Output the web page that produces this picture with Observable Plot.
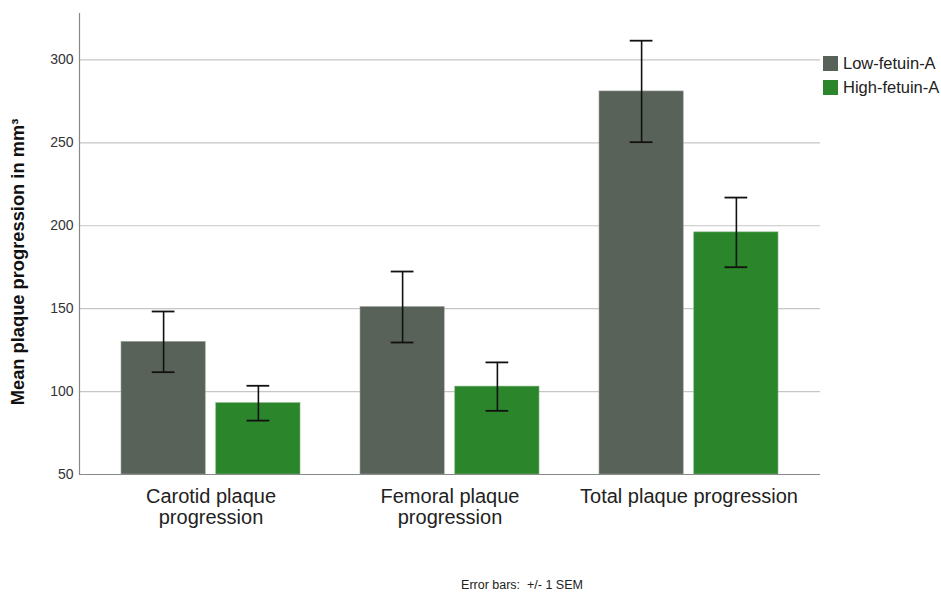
<!DOCTYPE html>
<html><head>
<meta charset="utf-8">
<script src="https://cdn.jsdelivr.net/npm/d3@7"></script>
<script src="https://cdn.jsdelivr.net/npm/@observablehq/plot@0.6"></script>
<style>
body{margin:0;background:#fff;font-family:"Liberation Sans",Arial,sans-serif}
#wrap{position:relative;width:941px;height:594px;overflow:hidden}
#legend{position:absolute;left:823px;top:51px;font-size:16.5px;color:#222}
.row{display:flex;align-items:center;height:24px}
.sw{width:15px;height:15px;margin-right:5px}
#caption{position:absolute;left:0;width:1044px;top:578px;text-align:center;font-size:12.5px;color:#222;white-space:pre}
</style>
</head><body>
<div id="wrap"><div id="chart"></div><div id="legend"></div><div id="caption"></div></div>
<script>
const measures = ["Carotid plaque progression", "Femoral plaque progression", "Total plaque progression"];
const measureLabels = ["Carotid plaque\nprogression", "Femoral plaque\nprogression", "Total plaque progression"];
const groups = ["Low-fetuin-A", "High-fetuin-A"];
const lowMeans = [130, 151, 281];
const lowSEM = [18.3, 21.4, 30.6];
const highMeans = [93, 103, 196];
const highSEM = [10.5, 14.6, 21];
const yTicks = [50, 100, 150, 200, 250, 300];
const yDomain = [50, 328];
const colors = ["#596259", "#2b862b"];
const yTitle = "Mean plaque progression in mm³";
const captionText = "Error bars:  +/- 1 SEM";

const lowRows = measures.map((m, i) => ({measure: m, group: groups[0], mean: lowMeans[i], lo: lowMeans[i] - lowSEM[i], hi: lowMeans[i] + lowSEM[i]}));
const highRows = measures.map((m, i) => ({measure: m, group: groups[1], mean: highMeans[i], lo: highMeans[i] - highSEM[i], hi: highMeans[i] + highSEM[i]}));
const labelOf = new Map(measures.map((m, i) => [m, measureLabels[i]]));

// style constants (pixels): bar split inside each category band
const half = 94.77, off = 47.39, capIn = 30.75;

const errMarks = (rows, side) => {
  const dx = side === 0 ? -off : off;
  const capL = side === 0 ? capIn : half + capIn;
  const capR = side === 0 ? half + capIn : capIn;
  return [
    Plot.ruleX(rows, {x: "measure", y1: "lo", y2: "hi", dx, stroke: "#111", strokeWidth: 1.6}),
    Plot.tickY(rows, {x: "measure", y: "hi", stroke: "#111", strokeWidth: 1.8, insetLeft: capL, insetRight: capR}),
    Plot.tickY(rows, {x: "measure", y: "lo", stroke: "#111", strokeWidth: 1.8, insetLeft: capL, insetRight: capR})
  ];
};

const chart = Plot.plot({
  width: 941,
  height: 594,
  marginLeft: 79,
  marginRight: 121,
  marginTop: 13,
  marginBottom: 120,
  style: {fontFamily: "Liberation Sans, Arial, sans-serif", color: "#222", background: "#fff"},
  x: {domain: measures, paddingInner: 0.25, paddingOuter: 0.175, axis: null},
  y: {domain: yDomain, axis: null},
  color: {domain: groups, range: colors},
  marks: [
    Plot.gridY(yTicks.slice(1), {stroke: "#c6c6c6", strokeOpacity: 1, strokeWidth: 1.2}),
    Plot.barY(lowRows, {x: "measure", y1: yDomain[0], y2: "mean", fill: "group", stroke: "#9aa39a", strokeWidth: 0.6, insetRight: half}),
    Plot.barY(highRows, {x: "measure", y1: yDomain[0], y2: "mean", fill: "group", stroke: "#7fb07f", strokeWidth: 0.6, insetLeft: half}),
    ...errMarks(lowRows, 0),
    ...errMarks(highRows, 1),
    Plot.ruleY([yDomain[0]], {stroke: "#888", strokeWidth: 1.2}),
    Plot.frame({anchor: "left", stroke: "#888", strokeWidth: 1.2}),
    Plot.axisY({ticks: yTicks, tickSize: 0, tickPadding: 6, fontSize: 14, fill: "#333", label: null}),
    Plot.axisX({tickSize: 0, tickPadding: 13, fontSize: 20, lineHeight: 1.08, fill: "#222", label: null, tickFormat: d => labelOf.get(d)}),
    Plot.text([yTitle], {frameAnchor: "left", textAnchor: "middle", dx: -61, dy: 18, rotate: -90, fontSize: 18.3, fontWeight: "bold", fill: "#111", text: d => d})
  ]
});
document.getElementById("chart").appendChild(chart);

const legend = document.getElementById("legend");
groups.forEach((g, i) => {
  const r = document.createElement("div");
  r.className = "row";
  r.innerHTML = `<div class="sw" style="background:${colors[i]}"></div><span>${g}</span>`;
  legend.appendChild(r);
});
document.getElementById("caption").textContent = captionText;
</script>
</body></html>
